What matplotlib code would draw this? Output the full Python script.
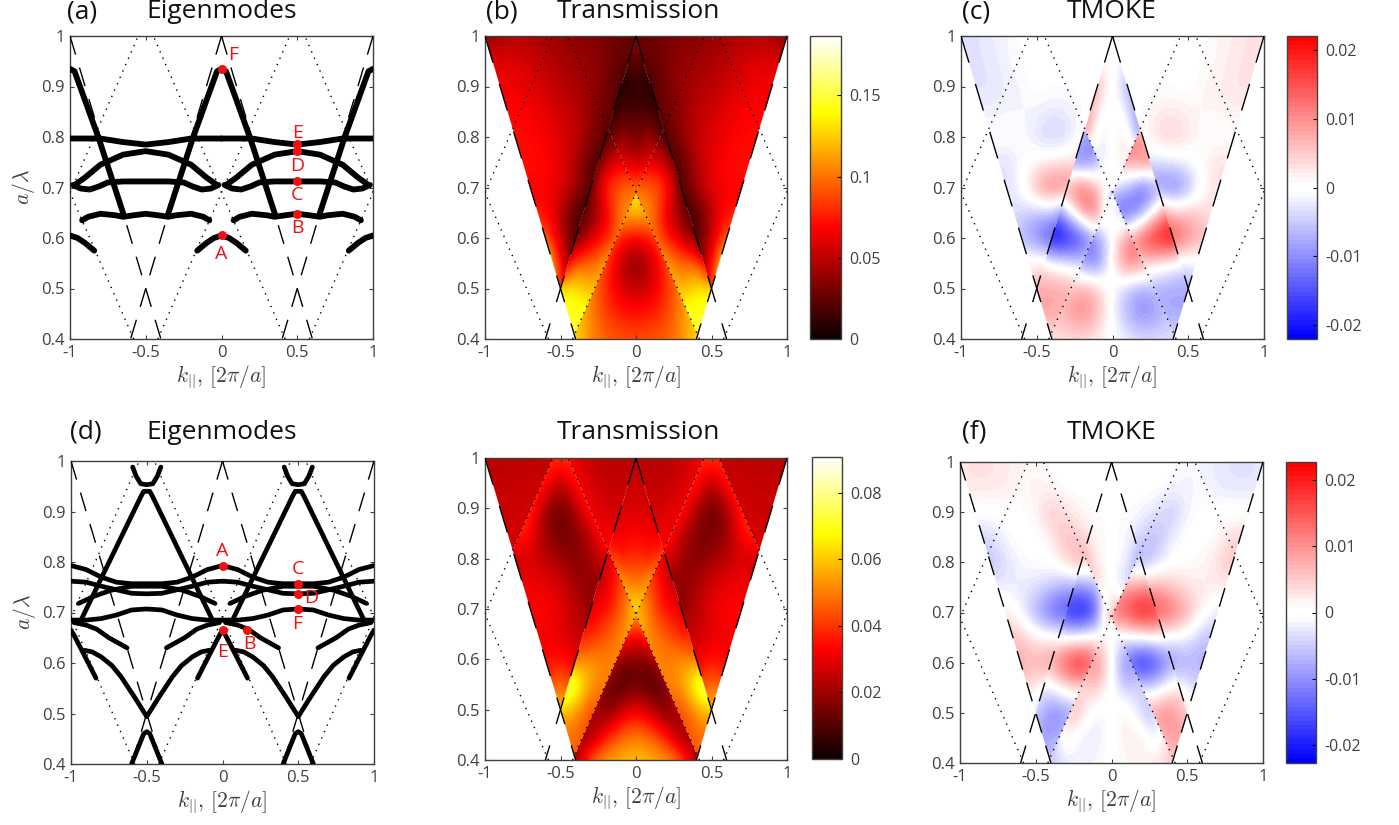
import numpy as np
import matplotlib
matplotlib.use('Agg')
import matplotlib.pyplot as plt
from matplotlib.colors import LinearSegmentedColormap, Normalize
from matplotlib.cm import ScalarMappable
from matplotlib.path import Path
from matplotlib.transforms import Bbox

plt.rcParams['font.family'] = ['Open Sans', 'DejaVu Sans']
plt.rcParams['mathtext.fontset'] = 'cm'

W, H = 1399, 825
GRAY = '#404040'
RED = '#f01010'

# mode branches, k >= 0 only (the plot mirrors them)
A_BRANCHES = [
    ([0, .05, .1, .16], [.605, .6, .59, .575]),
    ([.84, .9, .95, 1], [.575, .59, .6, .605]),
    ([.08, .12, .2, .3, .35, .42, .5, .58, .65, .7, .8, .88, .92],
     [.635, .642, .648, .645, .642, .645, .648, .645, .642, .645, .648, .642, .635]),
    ([.02, .07, .13, .19, .25, .35, .5, .65, .75, .81, .87, .93, .98],
     [.705, .698, .696, .702, .71, .712, .712, .712, .71, .702, .696, .698, .705]),
    ([.03, .1, .2, .35, .5, .65, .8, .9, .97],
     [.705, .72, .745, .765, .772, .765, .745, .72, .705]),
    ([0, .2, .35, .5, .65, .8, 1], [.797, .797, .79, .785, .79, .797, .797]),
    ([0, .03, .06, .1, .19, .352], [.935, .93, .905, .872, .797, .648]),
    ([.648, .81, .9, .94, .97, 1], [.648, .797, .872, .905, .93, .935]),
]
D_BRANCHES = [
    ([.407, .43, .46, .5, .54, .57, .593], [.988, .97, .955, .953, .955, .97, .988]),
    ([.055, .2, .462, .48, .52, .538, .8, .945], [.678, .768, .93, .94, .94, .93, .768, .678]),
    ([0, .02, .08, .165], [.665, .655, .62, .57]),
    ([.835, .92, .98, 1], [.57, .62, .655, .665]),
    ([0, .1, .2, .3, .4, .5, .6, .7, .8, .9, 1],
     [.793, .785, .77, .76, .757, .757, .757, .76, .77, .785, .793]),
    ([0, .1, .2, .3, .4, .5, .6, .7, .8, .9, 1],
     [.762, .76, .752, .745, .738, .737, .738, .745, .752, .76, .762]),
    ([.05, .15, .264, .4, .5, .6, .736, .85, .95],
     [.718, .732, .744, .752, .752, .752, .744, .732, .718]),
    ([0, .1, .2, .3, .4, .5, .6, .7, .8, .9, 1],
     [.685, .685, .688, .695, .705, .707, .705, .695, .688, .685, .685]),
    ([.02, .1, .17, .25, .37], [.68, .675, .667, .65, .63]),
    ([.63, .75, .83, .9, .98], [.63, .65, .667, .675, .68]),
    ([.09, .14, .2, .27, .33, .418, .5], [.625, .622, .612, .595, .573, .533, .494]),
    ([.5, .582, .67, .73, .8, .86, .91], [.494, .533, .573, .595, .612, .622, .625]),
    ([.4, .44, .48, .5, .52, .56, .6], [.4, .43, .46, .464, .46, .43, .4]),
]
A_POINTS = [('A', 0, .605, 0, .568), ('B', .5, .648, .5, .619), ('C', .5, .712, .5, .685),
            ('D', .5, .772, .5, .742), ('E', .5, .787, .5, .808), ('F', 0, .935, .08, .962)]
D_POINTS = [('A', 0, .793, 0, .822), ('B', .16, .666, .176, .637), ('C', .5, .757, .495, .786),
            ('D', .5, .737, .587, .728), ('E', 0, .665, 0, .621), ('F', .5, .706, .495, .677)]

# guide lines as k0, y0, k1, y1
DASHED = [(-1, 1, -.4, .4), (1, 1, .4, .4), (0, 1, -.6, .4), (0, 1, .6, .4)]
DOTTED = [(-.42, .4, .45, 1), (.42, .4, -.45, 1), (.58, .4, 1, .69), (-.58, .4, -1, .69),
          (-1, .69, -.55, 1), (1, .69, .55, 1)]
DASH_SHORT = (0, (14, 9.7))
DASH_LONG = (0, (20, 16))

# heat map values for k >= 0, rows go up in a/lambda, in units of 0.001
K_BOT, Y_BOT = np.arange(5) * .1, .4 + np.arange(7) * .05
K_MID, Y_MID = np.arange(6) * .1, .4 + np.arange(10) * .05
K_TOP, Y_TOP = np.arange(5) * .05, .7 + np.arange(7) * .05
K_OUT, Y_OUT = np.arange(11) * .1, .5 + np.arange(11) * .05
K_UP, Y_UP = np.arange(6) * .1, .8 + np.arange(5) * .05
K_COR, Y_COR = np.arange(6) * .2, .8 + np.arange(3) * .1

B_BOT = [[90, 92, 95, 105, 130], [72, 75, 85, 105, 130], [50, 58, 78, 105, 130],
         [32, 48, 85, 110, 130], [65, 75, 105, 110, 130], [125, 120, 110, 110, 110],
         [140, 120, 110, 110, 110]]
B_MID = [[150, 150, 150, 150, 150, 150], [150, 150, 150, 145, 145, 145],
         [130, 130, 125, 115, 135, 140], [120, 120, 115, 95, 100, 30],
         [110, 100, 75, 55, 25, 10], [120, 105, 60, 30, 10, 10],
         [100, 95, 85, 25, 10, 10], [50, 65, 50, 12, 10, 10],
         [35, 40, 15, 8, 8, 8], [20, 20, 8, 8, 8, 8]]
B_TOP = [[100, 95, 95, 95, 90], [50, 55, 65, 60, 50], [32, 33, 40, 25, 15],
         [18, 18, 15, 10, 8], [8, 8, 8, 8, 8], [30, 20, 10, 10, 10], [35, 35, 20, 20, 20]]
B_OUT = [[20, 20, 20, 20, 20, 90, 140, 140, 140, 140, 140],
         [20, 20, 20, 20, 20, 70, 150, 150, 150, 150, 150],
         [20, 20, 20, 20, 20, 50, 95, 100, 100, 100, 100],
         [15, 15, 15, 15, 15, 50, 72, 72, 72, 72, 72],
         [20, 20, 20, 20, 45, 62, 68, 68, 68, 68, 68],
         [20, 20, 20, 20, 48, 62, 70, 72, 72, 72, 72],
         [20, 20, 20, 38, 52, 58, 66, 70, 72, 72, 72],
         [25, 25, 25, 40, 50, 55, 62, 66, 68, 68, 68],
         [15, 15, 32, 40, 44, 48, 55, 60, 65, 65, 65],
         [25, 25, 34, 38, 42, 45, 50, 55, 60, 60, 60],
         [25, 28, 30, 34, 36, 38, 42, 45, 46, 44, 32]]

E_BOT = [[60, 58, 55, 48, 20], [50, 45, 35, 15, 20], [32, 25, 12, 25, 30],
         [12, 8, 12, 40, 40], [18, 14, 40, 40, 40], [32, 45, 45, 45, 45],
         [60, 60, 60, 60, 60]]
E_MID = [[45, 45, 45, 45, 45, 45], [45, 45, 45, 40, 48, 48],
         [45, 45, 45, 42, 55, 60], [50, 50, 50, 54, 76, 90],
         [55, 52, 50, 54, 48, 45], [60, 50, 45, 35, 35, 30],
         [65, 45, 33, 32, 25, 25], [50, 42, 28, 22, 22, 22],
         [40, 40, 25, 20, 20, 20], [40, 40, 25, 20, 20, 20]]
E_TOP = [[65, 62, 60, 60, 60], [50, 52, 58, 58, 58], [40, 38, 36, 42, 42],
         [33, 33, 32, 30, 32], [28, 28, 27, 27, 27], [26, 26, 26, 26, 26],
         [25, 25, 25, 25, 25]]
E_UP = [[35, 35, 35, 33, 30, 30], [30, 30, 32, 33, 33, 33], [26, 27, 27, 32, 33, 33],
        [25, 25, 25, 27, 34, 36], [24, 24, 24, 25, 28, 38]]
E_OUT = [[40, 40, 40, 40, 50, 60, 60, 60, 60, 60, 60],
         [40, 40, 40, 40, 40, 50, 40, 40, 40, 40, 40],
         [30, 30, 30, 30, 30, 35, 33, 33, 33, 33, 33],
         [25, 25, 25, 25, 25, 30, 32, 32, 32, 32, 32],
         [18, 18, 18, 18, 24, 30, 34, 33, 33, 33, 33],
         [18, 18, 18, 18, 20, 28, 30, 32, 30, 30, 30],
         [30, 30, 30, 20, 17, 20, 24, 28, 25, 25, 25],
         [40, 40, 40, 25, 15, 14, 18, 35, 40, 40, 40],
         [40, 40, 40, 40, 22, 12, 20, 40, 40, 40, 40],
         [38, 38, 38, 38, 38, 22, 38, 40, 40, 40, 40],
         [38, 38, 38, 38, 38, 42, 38, 38, 38, 38, 38]]
E_COR = [[28, 28, 28, 28, 28, 28], [26, 26, 26, 30, 26, 26], [24, 24, 24, 24, 24, 24]]

C_BOT = [[0, -2, -3, -3, -3], [-1, -7, -11, -8, -5], [-1, -6, -8, -6, -5],
         [2, 13, 9, 3, 0], [0, 10, 13, 8, 5], [-1, -10, 10, 8, 5], [0, 0, 0, 0, 0]]
C_MID = [[-3, -3, -3, -3, -3, -3], [-5, -5, -5, -7, -8, -8], [-6, -6, -6, -8, -8, -8],
         [2, 3, 4, 2, -1, -3], [6, 8, 17, 21, 24, 12], [-15, -15, -9, 5, 14, 14],
         [-3, -6, -15, -10, -8, -8], [6, 8, 13, 10, 8, 8], [14, 14, 6, 5, 5, 5],
         [2, 2, 2, 2, 2, 2]]
C_TOP = [[0, -2, 0, 0, 0], [0, 2, 2, 10, 12], [0, 2, 1, -6, -9], [0, 0, -3, -8, -8],
         [0, -3, -7, -7, -7], [0, -1, -2, -2, -2], [0, 0, 0, 0, 0]]
C_OUT = [[0, 0, 0, 0, -7, -7, -5, -2, 0, 0, 0],
         [0, 0, 0, 0, -3, -3, -1, 0, 0, 0, 0],
         [17, 17, 17, 17, 17, 11, 7, 3, 0, 0, 0],
         [12, 12, 12, 12, 5, 6, 4, 2.5, 1, 0, 0],
         [-11, -11, -11, -11, -13, -8, .5, 3.5, 2, 0, 0],
         [-3, -3, -3, -3, -2, -1, 1, 3.5, 3, 0, 0],
         [0, 0, 0, 4, 5, 3, .5, 0, 0, 0, 0],
         [0, 0, 1, 2, 2.5, 1.5, 1.5, 1.5, 2, 2, 2],
         [-1.5, -1.5, 0, .5, .5, 0, 1.5, 2, 3, 3, 3],
         [0, 0, 0, 0, 0, 0, .5, 1.5, 2.5, 3, 3],
         [0, 0, 0, 0, 0, 0, .5, 1.5, 2, 3, 3]]

F_BOT = [[0, 1, 2, 3, 5], [0, 2.5, 3.5, -4, 8], [0, 3, -6, -6, 10], [0, -6, -3, -4, -4],
         [0, -13, -8, -8, -8], [0, -2, -2, -2, -2], [0, 0, 0, 0, 0]]
F_MID = [[3, 3, 3, 3, 5, 5], [3, 3, 3, 5, 9, 9], [8, 8, 8, 10, 12, 3],
         [-3, -3, -4, -3, 2, 3], [-8, -14, -22, -17, -9, -7], [-2, -2, 0, 1, -1, -4],
         [15, 17, 23, 20, 14, 9], [5, 8, 10, 9, 5, 3], [0, -4, -8, -3, -3, -3],
         [-2, -3, -3, -3, -3, -3]]
F_TOP = [[8, 8, 8, 8, 8], [-1, -3, -5, -5, -5], [0, -1, -2, -7, -9],
         [0, -1, -1.5, -2, -5], [0, -.5, -1, -1, -2], [0, 0, 0, 0, 0], [0, 0, 0, 0, 0]]
F_OUT = [[10, 10, 10, 10, 10, 3, 0, 0, 0, 0, 0],
         [2, 2, 2, 2, 2, -2, -5, -5, -5, -5, -5],
         [-11, -11, -11, -11, -11, -7, -8, -6, -6, -6, -6],
         [-1, -1, -1, -1, -1, -2, -6, -6, -6, -6, -6],
         [17, 17, 17, 17, 14, 8, 1.5, -3, -3, -3, -3],
         [8, 8, 8, 8, 5, 3, 2.5, 2.5, 2.5, 2.5, 2.5],
         [-9, -9, -9, -4, 0, .5, 1, 3.5, 6, 6, 6],
         [-1, -1, -4, -7, -2, 0, 0, 1, 4, 4, 4],
         [-.5, -.5, -1.5, -3, -6, -1.5, -.3, 0, 0, 0, 0],
         [0, 0, 0, 0, -1, -2, -1, -2.5, -3, -3, -3],
         [0, 0, 0, 0, -.5, -1, -1.5, -2.5, -3, -3, -2.5]]

# region outlines for k >= 0
P_BOT = [(0, .4), (.4, .4), (.408, .408), (0, .69)]
P_MID = [(0, .69), (.408, .408), (.5, .5), (.184, .816)]
P_TOP = [(0, .69), (.184, .816), (0, 1)]
P_OUT = [(0, 1), (1, 1), (.5, .5)]
P_UP = [(0, 1), (.184, .816), (.45, 1)]
P_DIA = [(.184, .816), (.5, .5), (.816, .816), (.55, 1), (.45, 1)]
P_COR = [(.55, 1), (.816, .816), (1, 1)]

hot = plt.get_cmap('hot', 128)
bwr = LinearSegmentedColormap.from_list(
    'tmoke', [(0, '#0000ff'), (.485, '#ffffff'), (.515, '#ffffff'), (1, '#ff0000')], N=64)


def axes_px(x0, y0, x1, y1):
    return fig.add_axes([x0 / W, 1 - y1 / H, (x1 - x0) / W, (y1 - y0) / H])


def clip_both(verts):
    right = np.array(verts, dtype=float)
    left = right[::-1].copy()
    left[:, 0] *= -1
    right[right[:, 0] == 0, 0] = -.003
    left[left[:, 0] == 0, 0] = .003
    return Path.make_compound_path(Path(right), Path(left))


def region(ax, vals, ks, ys, poly, cmap, norm, sign):
    half = np.array(vals, dtype=float) / 1000
    full = np.hstack([sign * half[:, :0:-1], half])
    dk, dy = ks[1] - ks[0], ys[1] - ys[0]
    im = ax.imshow(full, origin='lower', aspect='auto', cmap=cmap, norm=norm,
                   interpolation='bicubic', interpolation_stage='data',
                   extent=(-ks[-1] - dk / 2, ks[-1] + dk / 2, ys[0] - dy / 2, ys[-1] + dy / 2))
    im.set_clip_path(clip_both(poly), transform=ax.transData)


def style(ax, dash, ylabel=False):
    ax.set_xlim(-1, 1)
    ax.set_ylim(.4, 1)
    ax.set_xticks([-1, -.5, 0, .5, 1], ['-1', '-0.5', '0', '0.5', '1'])
    ax.set_yticks([.4, .5, .6, .7, .8, .9, 1], ['0.4', '0.5', '0.6', '0.7', '0.8', '0.9', '1'])
    ax.tick_params(direction='in', top=True, right=True, length=3, width=.8,
                   labelsize=12, labelcolor=GRAY, color=GRAY, pad=4)
    for s in ax.spines.values():
        s.set_color(GRAY)
        s.set_linewidth(1)
    for x0, y0, x1, y1 in DASHED:
        ax.plot([x0, x1], [y0, y1], color='k', lw=1, ls=dash, zorder=3)
    for x0, y0, x1, y1 in DOTTED:
        ax.plot([x0, x1], [y0, y1], color='k', lw=1, ls=(0, (1, 4)), zorder=3)
    ax.set_xlabel(r'$k_{||},\,[2\pi/a]$', fontsize=15.5, color=GRAY, labelpad=2)
    if ylabel:
        ax.set_ylabel(r'$a/\lambda$', fontsize=15.5, color=GRAY, labelpad=3)


def modes(ax, branches, points, lw):
    for ks, ys in branches:
        ks = np.array(ks)
        for s in (1, -1):
            ax.plot(s * ks, ys, color='k', lw=lw, solid_capstyle='round',
                    solid_joinstyle='round', zorder=4, clip_on=True)
    for name, k, y, tx, ty in points:
        ax.plot(k, y, 'o', color=RED, ms=6.5, mew=0, zorder=5)
        ax.text(tx, ty, name, color=RED, fontsize=14, ha='center', va='center', zorder=6)


def colorbar(x0, y0, x1, y1, cmap, norm, ticks, labels):
    cax = axes_px(x0, y0, x1, y1)
    cb = fig.colorbar(ScalarMappable(norm=norm, cmap=cmap), cax=cax)
    cb.set_ticks(ticks, labels=labels)
    cax.tick_params(direction='in', length=3, width=.8, labelsize=11.5,
                    labelcolor=GRAY, color='k', pad=6)
    cb.outline.set_edgecolor(GRAY)
    cb.outline.set_linewidth(1)
    return cax


def head(text, x, y):
    fig.text(x / W, 1 - y / H, text, fontsize=19, color='#111111', ha='center', va='center')


def tag(text, x, y):
    fig.text(x / W, 1 - y / H, text, fontsize=19, color='#111111', ha='left', va='center')


fig = plt.figure(figsize=(W / 100, H / 100), dpi=100, facecolor='white')

# (a)
ax = axes_px(70, 36, 373, 339)
modes(ax, A_BRANCHES, A_POINTS, 4.2)
style(ax, DASH_SHORT, True)
head('Eigenmodes', 222, 12)
tag('(a)', 67, 12)

# (d)
ax = axes_px(71, 461, 374, 764)
modes(ax, D_BRANCHES, D_POINTS, 3.4)
style(ax, DASH_SHORT, True)
head('Eigenmodes', 222, 432)
tag('(d)', 70, 432)

# (b)
norm_b = Normalize(0, .1865)
ax = axes_px(485, 36, 787, 339)
for vals, ks, ys, poly in [(B_BOT, K_BOT, Y_BOT, P_BOT), (B_MID, K_MID, Y_MID, P_MID),
                           (B_TOP, K_TOP, Y_TOP, P_TOP), (B_OUT, K_OUT, Y_OUT, P_OUT)]:
    region(ax, vals, ks, ys, poly, hot, norm_b, 1)
style(ax, DASH_LONG)
head('Transmission', 638, 12)
tag('(b)', 486, 12)
colorbar(810, 36, 841, 339, hot, norm_b, [0, .05, .1, .15], ['0', '0.05', '0.1', '0.15'])

# (e), no tag in the original
norm_e = Normalize(0, .0907)
ax = axes_px(485, 458, 787, 760)
for vals, ks, ys, poly in [(E_BOT, K_BOT, Y_BOT, P_BOT), (E_MID, K_MID, Y_MID, P_MID),
                           (E_TOP, K_TOP, Y_TOP, P_TOP), (E_UP, K_UP, Y_UP, P_UP),
                           (E_OUT, K_OUT, Y_OUT, P_DIA), (E_COR, K_COR, Y_COR, P_COR)]:
    region(ax, vals, ks, ys, poly, hot, norm_e, 1)
style(ax, DASH_LONG)
head('Transmission', 638, 432)
colorbar(812, 457, 842, 759, hot, norm_e, [0, .02, .04, .06, .08],
         ['0', '0.02', '0.04', '0.06', '0.08'])

# (c)
norm_c = Normalize(-.0221, .0221)
ax = axes_px(961, 36, 1264, 339)
for vals, ks, ys, poly in [(C_BOT, K_BOT, Y_BOT, P_BOT), (C_MID, K_MID, Y_MID, P_MID),
                           (C_TOP, K_TOP, Y_TOP, P_TOP), (C_OUT, K_OUT, Y_OUT, P_OUT)]:
    region(ax, vals, ks, ys, poly, bwr, norm_c, -1)
style(ax, DASH_LONG)
head('TMOKE', 1112, 12)
tag('(c)', 962, 12)
colorbar(1287, 36, 1317, 339, bwr, norm_c, [-.02, -.01, 0, .01, .02],
         ['-0.02', '-0.01', '0', '0.01', '0.02'])

# (f)
norm_f = Normalize(-.0228, .0228)
ax = axes_px(960, 462, 1263, 763)
for vals, ks, ys, poly in [(F_BOT, K_BOT, Y_BOT, P_BOT), (F_MID, K_MID, Y_MID, P_MID),
                           (F_TOP, K_TOP, Y_TOP, P_TOP), (F_OUT, K_OUT, Y_OUT, P_OUT)]:
    region(ax, vals, ks, ys, poly, bwr, norm_f, -1)
style(ax, DASH_SHORT)
head('TMOKE', 1112, 432)
tag('(f)', 962, 432)
cax = colorbar(1286, 462, 1316, 763, bwr, norm_f, [-.02, -.01, 0, .01, .02],
               ['-0.02', '-0.01', '0', '0.01', '0.02'])
# the two lower labels are cut off at the right in the original
for lab in cax.get_yticklabels():
    lab.set_clip_box(Bbox([[0, 0], [1361, H]]))
    lab.set_clip_on(True)

fig.savefig('out.png', dpi=100)
